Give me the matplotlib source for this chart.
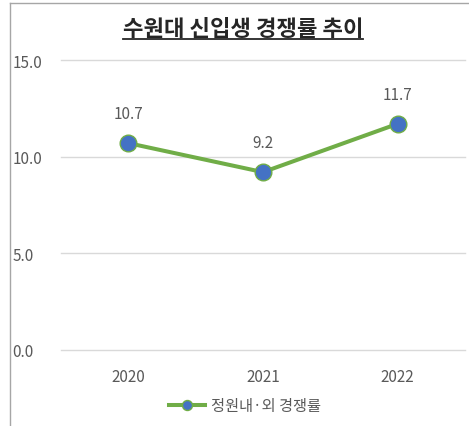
import matplotlib
matplotlib.use("Agg")
import matplotlib.pyplot as plt
from matplotlib.lines import Line2D

plt.rcParams['font.family'] = ['Noto Sans CJK KR', 'DejaVu Sans']

title = "수원대 신입생 경쟁률 추이"
categories = ["2020", "2021", "2022"]
values = [10.7, 9.2, 11.7]
series_name = "정원내·외 경쟁률"
yticks = [0.0, 5.0, 10.0, 15.0]

W, H = 469, 427
fig = plt.figure(figsize=(W / 100, H / 100), dpi=100)
ax = fig.add_axes([61 / W, 1 - 351 / H, (465 - 61) / W, (351 - 61) / H])

x = range(len(categories))
line, = ax.plot(x, values, color='#70AD47', linewidth=2.9, marker='o',
                markersize=12, markerfacecolor='#4472C4',
                markeredgecolor='#70AD47', markeredgewidth=1.0,
                label=series_name, zorder=3, clip_on=False)
for xi, v in zip(x, values):
    ax.annotate(f"{v:.1f}", (xi, v), xytext=(0, 15), textcoords='offset points',
                ha='center', va='bottom', fontsize=11, color='#595959')

ax.set_xlim(-0.5, len(categories) - 0.5)
ax.set_ylim(0, 15)
ax.set_yticks(yticks)
ax.set_yticklabels([f"{t:.1f}" for t in yticks])
ax.set_xticks(list(x))
ax.set_xticklabels(categories)
ax.grid(axis='y', color='#D9D9D9', linewidth=1.0)
for gl in ax.get_ygridlines():
    gl.set_clip_on(False)
ax.set_axisbelow(True)
for s in ax.spines.values():
    s.set_visible(False)
ax.tick_params(axis='both', length=0, colors='#595959', labelsize=11)
ax.tick_params(axis='x', pad=13)
for lbl in ax.get_yticklabels():
    lbl.set_horizontalalignment('left')
ax.yaxis.set_tick_params(pad=35)

# title with underline
t = fig.text(243 / W, 1 - 30 / H, title, ha='center', va='center',
             fontsize=16, fontweight='bold', color='#262626')
fig.canvas.draw()
bb = t.get_window_extent()
uy = 1 - 40 / H
fig.add_artist(Line2D([bb.x0 / W, bb.x1 / W], [uy, uy], color='#262626', linewidth=1.3))

# border
fig.add_artist(Line2D([10 / W, 10 / W], [0, 1 - 4 / H], color='#A6A6A6', linewidth=1.0))
fig.add_artist(Line2D([10 / W, 1], [1 - 4 / H, 1 - 4 / H], color='#A6A6A6', linewidth=1.0))

leg = fig.legend(handles=[line], loc='center', bbox_to_anchor=(245 / W, 1 - 407 / H),
                 frameon=False, fontsize=11, handlelength=2.4, handletextpad=0.4,
                 labelcolor='#595959', markerscale=0.6)

fig.savefig("out.png", dpi=100)
